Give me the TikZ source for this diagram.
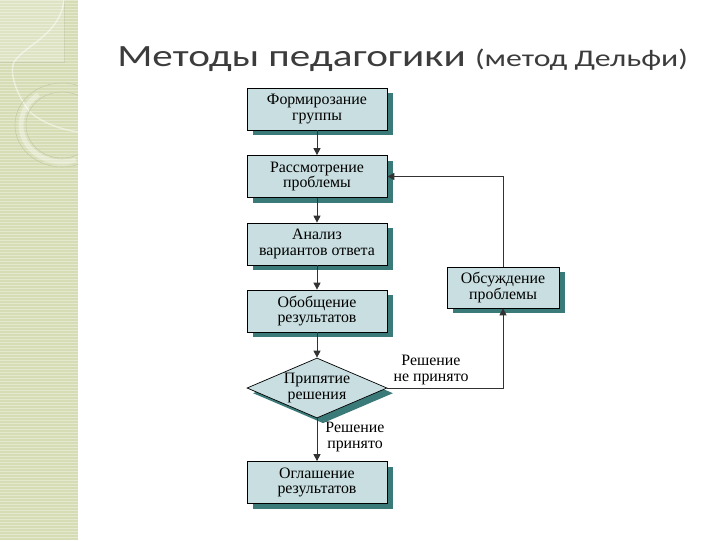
\documentclass[tikz,border=0pt]{standalone}
\usepackage{fontspec}
\setmainfont{Liberation Serif}
\newfontfamily\titlefont{Carlito}
\usetikzlibrary{arrows.meta,shapes.geometric,shadows}
\definecolor{BoxClr}{RGB}{200,222,224}
\definecolor{ShadowClr}{RGB}{58,122,120}
\definecolor{StripClr}{RGB}{214,221,180}
\definecolor{LineClr}{RGB}{50,50,50}
\definecolor{TitleClr}{RGB}{60,60,60}

\tikzset{
  stage/.style={draw=black,line width=0.5pt,fill=BoxClr,align=center,
    minimum width=3.5cm,minimum height=1.05cm,inner sep=1pt,
    font=\fontsize{11.3}{11}\selectfont,
    drop shadow={shadow xshift=0.15cm,shadow yshift=-0.13cm,fill=ShadowClr,opacity=1}},
  choice/.style={stage,diamond,aspect=2.33,inner sep=0pt,
    minimum width=3.5cm,minimum height=1.5cm},
  link/.style={draw=LineClr,line width=0.6pt,-{Triangle[width=5pt,length=5pt]}},
  note/.style={align=center,font=\fontsize{11.3}{11.5}\selectfont}
}

\begin{document}
\begin{tikzpicture}[x=0.025cm,y=-0.025cm]
\useasboundingbox (0,0) rectangle (720,540);

% side strip
\fill[StripClr] (0,0) rectangle (78,540);
\fill[white,opacity=0.2] (0,0) rectangle (64,62);
\draw[StripClr!70!gray,opacity=0.5,line width=0.5pt] (0,62) -- (64,62) -- (64,0);
\foreach \y in {0,3,...,540}
  \draw[white,opacity=0.35,line width=0.35pt] (0,\y) -- (78,\y);
\fill[white,opacity=0.6] (78,0) rectangle (80,540);
\begin{scope}
\clip (0,0) rectangle (78,540);
\draw[white,opacity=0.5,line width=1pt] (64,0) .. controls (60,35) and (25,45) .. (14,62)
  .. controls (8,75) and (20,100) .. (30,112) .. controls (45,125) and (65,130) .. (78,132);
\draw[StripClr!80!gray,line width=0.4pt] (62,125) ellipse (47 and 42);
\draw[white,opacity=0.35,line width=3.5pt] (62,125) ++(235:41 and 37)
  arc[start angle=235,end angle=70,x radius=41,y radius=37];
\draw[StripClr!80!gray,line width=0.4pt] (62,125) ellipse (36 and 33);
\end{scope}

% title
\node[anchor=base west,inner sep=0pt,text=TitleClr] (title) at (117,66)
  {\scalebox{1.33}[1]{\titlefont\fontsize{22}{26}\selectfont Методы педагогики \fontsize{17}{20}\selectfont(метод Дельфи)}};

% flow
\node[stage] (form) at (317,109) {Формирозание\\группы};
\node[stage] (view) at (317,176.5) {Рассмотрение\\проблемы};
\node[stage] (anal) at (317,244) {Анализ\\вариантов ответа};
\node[stage] (summ) at (317,311) {Обобщение\\результатов};
\node[choice] (dec) at (317,388) {Припятие\\решения};
\node[stage] (anno) at (317,482.5) {Оглашение\\результатов};
\node[stage,minimum width=2.8cm,minimum height=1.025cm] (disc) at (503,287.5) {Обсуждение\\проблемы};

\coordinate (c1) at (disc.north |- view.east);
\coordinate (c2) at (disc.south |- dec.east);

\draw[link] (form) -- (view);
\draw[link] (view) -- (anal);
\draw[link] (anal) -- (summ);
\draw[link] (summ) -- (dec.north);
\draw[link] (dec.south) -- (anno);
\draw[link] (dec.east) -- (c2) -- (disc.south);
\draw[link] (disc.north) -- (c1) -- (view.east);

\node[note] (no) at (431,370) {Решение\\не принято};
\node[note] (yes) at (355,437) {Решение\\принято};
\end{tikzpicture}
\end{document}
